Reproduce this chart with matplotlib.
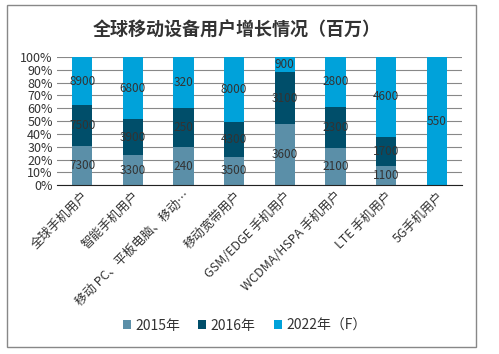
import numpy as np
import matplotlib.pyplot as plt
from matplotlib.patches import Rectangle

plt.rcParams['font.family'] = ['Noto Sans CJK SC', 'DejaVu Sans']

categories = ['全球手机用户', '智能手机用户', '移动 PC、平板电脑、移动…', '移动宽带用户',
              'GSM/EDGE 手机用户', 'WCDMA/HSPA 手机用户', 'LTE 手机用户', '5G手机用户']
series_names = ['2015年', '2016年', '2022年（F）']
v2015 = [7300, 3300, 240, 3500, 3600, 2100, 1100, 0]
v2016 = [7500, 3900, 250, 4300, 3100, 2300, 1700, 0]
v2022 = [8900, 6800, 320, 8000, 900, 2800, 4600, 550]
colors = ['#5b8fa8', '#004e6a', '#00a2da']

data = np.array([v2015, v2016, v2022], dtype=float)
totals = data.sum(axis=0)
pct = data / totals * 100

fig = plt.figure(figsize=(4.99, 3.54), dpi=100)
ax = fig.add_axes([0.114, 0.477, 0.812, 0.362])

x = np.arange(len(categories))
bottom = np.zeros(len(categories))
for i, name in enumerate(series_names):
    ax.bar(x, pct[i], 0.4, bottom=bottom, color=colors[i], label=name, zorder=2)
    for j in range(len(categories)):
        if data[i, j] > 0:
            ax.text(x[j], bottom[j] + pct[i, j] / 2, f'{int(data[i, j])}',
                    ha='center', va='center', fontsize=8.5, color='#333333', zorder=3)
    bottom += pct[i]

ax.set_xlim(-0.5, len(categories) - 0.5)
ax.set_ylim(0, 100)
ax.set_yticks(np.arange(0, 101, 10))
ax.set_yticklabels([f'{t}%' for t in range(0, 101, 10)], fontsize=9, color='#333333')
ax.yaxis.grid(True, color='#888888', linewidth=0.8, zorder=0)
ax.tick_params(axis='y', length=0, pad=3)
ax.tick_params(axis='x', length=0, pad=3)
ax.set_xticks(x)
ax.set_xticklabels(categories, rotation=45, ha='right', va='top', rotation_mode='anchor',
                   fontsize=9, color='#333333')
for s in ['left', 'right', 'top']:
    ax.spines[s].set_visible(False)
ax.spines['bottom'].set_color('#222222')

fig.text(0.475, 0.915, '全球移动设备用户增长情况（百万）', ha='center', va='center',
         fontsize=13, fontweight='bold', color='#333333')

fig.legend(loc='center', bbox_to_anchor=(0.49, 0.08), ncol=3, frameon=False,
           fontsize=10, handlelength=0.6, handleheight=0.6, handletextpad=0.3,
           columnspacing=1.3, labelcolor='#333333')

fig.patches.append(Rectangle((7 / 499, 1 - 347 / 354), 469 / 499, 342 / 354,
                             transform=fig.transFigure, fill=False,
                             edgecolor='#888888', linewidth=1))

fig.savefig('out.png', dpi=100)
